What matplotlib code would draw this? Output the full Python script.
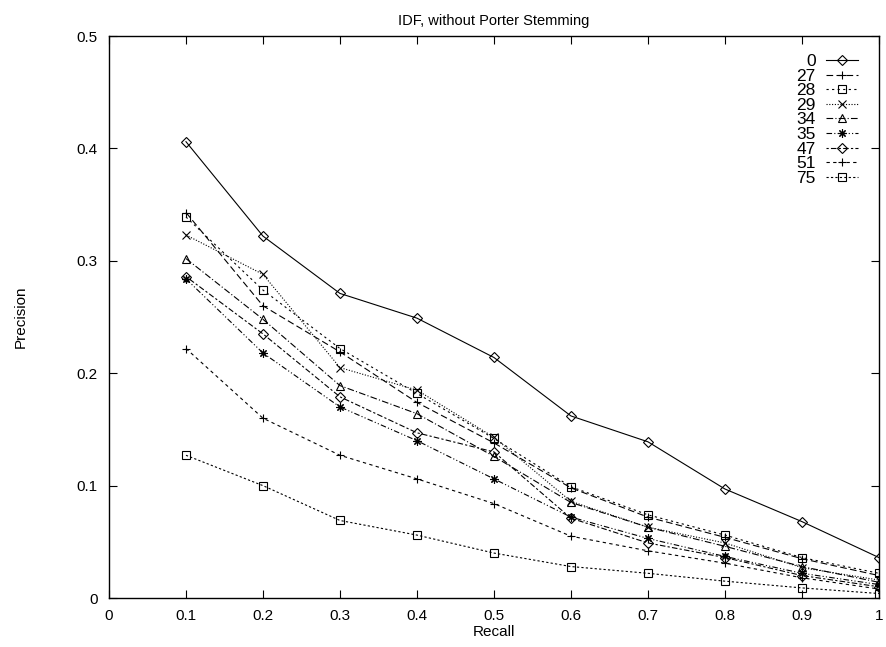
import matplotlib
matplotlib.use("Agg")
import matplotlib.pyplot as plt
from matplotlib.ticker import FuncFormatter

plt.rcParams['font.family'] = ['Liberation Sans', 'DejaVu Sans']

recall = [0.1, 0.2, 0.3, 0.4, 0.5, 0.6, 0.7, 0.8, 0.9, 1.0]

labels = ["0", "27", "28", "29", "34", "35", "47", "51", "75"]

p0 = [0.406, 0.322, 0.271, 0.249, 0.214, 0.162, 0.139, 0.097, 0.068, 0.036]
p27 = [0.343, 0.260, 0.219, 0.174, 0.138, 0.098, 0.072, 0.054, 0.035, 0.020]
p28 = [0.339, 0.274, 0.222, 0.182, 0.142, 0.099, 0.074, 0.056, 0.036, 0.022]
p29 = [0.323, 0.288, 0.205, 0.185, 0.143, 0.086, 0.063, 0.049, 0.027, 0.016]
p34 = [0.302, 0.248, 0.189, 0.164, 0.126, 0.085, 0.063, 0.046, 0.028, 0.014]
p35 = [0.284, 0.218, 0.170, 0.140, 0.106, 0.072, 0.053, 0.037, 0.022, 0.012]
p47 = [0.286, 0.235, 0.179, 0.147, 0.130, 0.071, 0.049, 0.036, 0.020, 0.010]
p51 = [0.222, 0.160, 0.127, 0.106, 0.084, 0.055, 0.042, 0.031, 0.018, 0.008]
p75 = [0.127, 0.100, 0.069, 0.056, 0.040, 0.028, 0.022, 0.015, 0.009, 0.004]

series = [p0, p27, p28, p29, p34, p35, p47, p51, p75]

# gnuplot-like point types and dash patterns
markers = ['D', '+', 's', 'x', '^', (8, 2, 0), 'D', '+', 's']
dashes = [
    None,
    (6, 3),
    (2, 3),
    (1, 1.5),
    (6, 2, 1, 2),
    (5, 2, 1, 2, 1, 2),
    (2, 2, 5, 2),
    (3, 3),
    (2, 2),
]

fig = plt.figure(figsize=(8.86, 6.47), dpi=100)
ax = fig.add_axes([0.123, 0.0757, 0.869, 0.8686])

for lab, vals, m, d in zip(labels, series, markers, dashes):
    kw = dict(color='black', lw=0.8, marker=m, markersize=6 if m != 'D' else 5,
              markerfacecolor='none', markeredgecolor='black', markeredgewidth=0.8,
              label=lab)
    if d is None:
        ax.plot(recall, vals, linestyle='-', **kw)
    else:
        ax.plot(recall, vals, linestyle=(0, d), **kw)

ax.set_xlim(0, 1)
ax.set_ylim(0, 0.5)
ax.set_xticks([i / 10 for i in range(11)])
ax.set_yticks([i / 10 for i in range(6)])
ax.xaxis.set_major_formatter(FuncFormatter(lambda v, p: f"{v:g}"))
ax.yaxis.set_major_formatter(FuncFormatter(lambda v, p: f"{v:g}"))
ax.tick_params(direction='in', top=True, right=True, length=6, labelsize=11, pad=8)
for s in ax.spines.values():
    s.set_linewidth(1.0)

ax.set_title("IDF, without Porter Stemming", fontsize=10.5, pad=8)
ax.set_xlabel("Recall", fontsize=11, labelpad=1)
ax.set_ylabel("Precision", fontsize=11, labelpad=35)

ax.legend(loc='upper right', bbox_to_anchor=(0.989, 0.99), markerfirst=False,
          frameon=False, fontsize=12.5, handlelength=1.85, handletextpad=0.6,
          labelspacing=-0.03, borderpad=0.2)

fig.savefig("out.png", dpi=100)
